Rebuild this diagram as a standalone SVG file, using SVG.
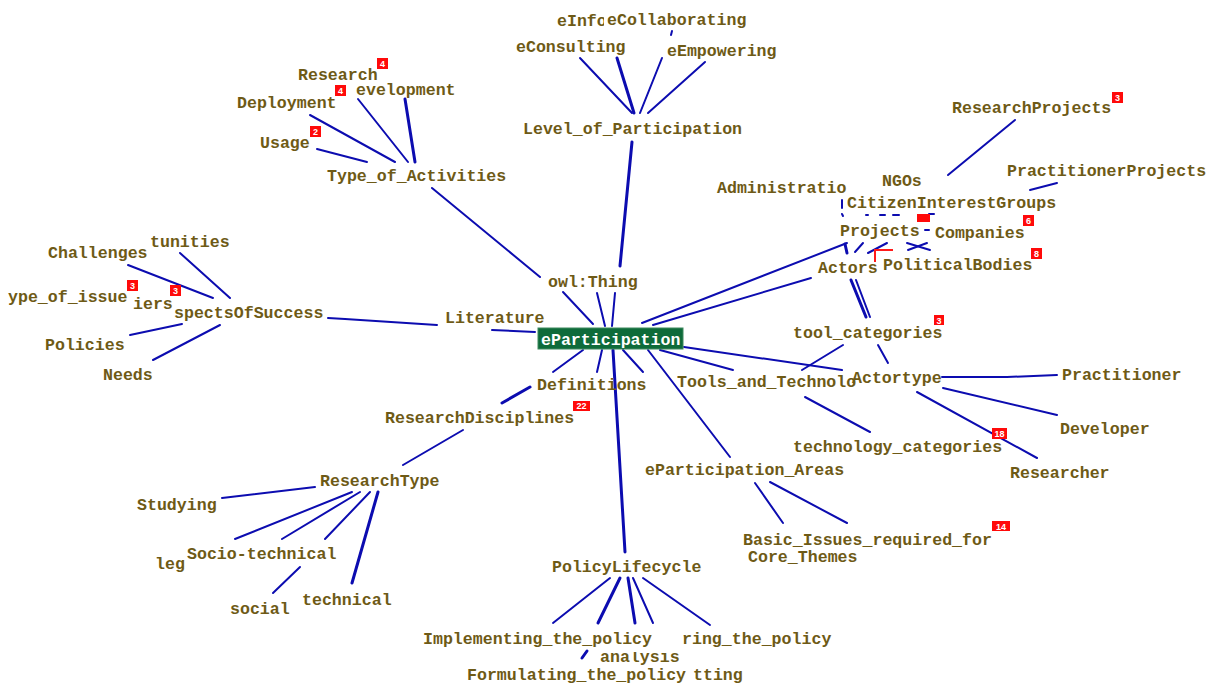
<svg xmlns="http://www.w3.org/2000/svg" width="1207" height="684" viewBox="0 0 1207 684">
  <defs>
    <style>
      .lbl { font-family: "Liberation Mono", "DejaVu Sans Mono", monospace; font-weight: bold; font-size: 16.6px; fill: #6e5a16; }
      .root { font-family: "Liberation Mono", "DejaVu Sans Mono", monospace; font-weight: bold; font-size: 16.6px; fill: #ffffff; }
      .edge { stroke: #0c0cb0; stroke-width: 2; fill: none; stroke-linecap: round; }
      .thick { stroke-width: 3; }
      .badge rect { fill: #ff0a0a; }
      .badge text { font-family: "Liberation Sans", Arial, sans-serif; font-weight: bold; font-size: 9px; fill: #ffffff; text-anchor: middle; }
      .redline { stroke: #ff1a1a; stroke-width: 2; fill: none; }
    </style>
    <clipPath id="clipAnalysis"><rect x="590" y="652" width="260" height="20"/></clipPath>
    <clipPath id="clipCore"><rect x="740" y="549" width="140" height="20"/></clipPath>
  </defs>
  <rect width="1207" height="684" fill="#ffffff"/>

  <!-- connectors -->
  <g id="connectors">
    <!-- Level_of_Participation branch -->
    <line class="edge" x1="580" y1="58" x2="632" y2="113"/>
    <line class="edge thick" x1="617" y1="58" x2="634" y2="113"/>
    <line class="edge" x1="662" y1="58" x2="640" y2="113"/>
    <line class="edge" x1="705" y1="62" x2="648" y2="113"/>
    <line class="edge" x1="672" y1="31" x2="671" y2="35"/>
    <line class="edge thick" x1="632" y1="142" x2="620" y2="266"/>
    <!-- Type_of_Activities branch -->
    <line class="edge" x1="317" y1="149" x2="367" y2="162"/>
    <line class="edge" x1="310" y1="115" x2="395" y2="162"/>
    <line class="edge" x1="358" y1="99" x2="408" y2="162"/>
    <line class="edge thick" x1="405" y1="99" x2="415" y2="162"/>
    <line class="edge" x1="432" y1="188" x2="540" y2="277"/>
    <!-- owl:Thing to root -->
    <line class="edge" x1="563" y1="292" x2="593" y2="324"/>
    <line class="edge" x1="597" y1="293" x2="605" y2="326"/>
    <line class="edge" x1="615" y1="293" x2="612" y2="326"/>
    <!-- AspectsOfSuccess branch -->
    <line class="edge" x1="180" y1="253" x2="230" y2="298"/>
    <line class="edge" x1="128" y1="265" x2="213" y2="298"/>
    <line class="edge" x1="130" y1="335" x2="182" y2="324"/>
    <line class="edge" x1="153" y1="360" x2="220" y2="325"/>
    <polyline class="edge" points="328,318 345,319 437,325"/>
    <line class="edge" x1="492" y1="330" x2="535" y2="332"/>
    <!-- root to Actors / Projects -->
    <line class="edge" x1="642" y1="323" x2="847" y2="243"/>
    <line class="edge" x1="653" y1="325" x2="811" y2="278"/>
    <line class="edge thick" x1="845" y1="244" x2="847" y2="253"/>
    <line class="edge" x1="855" y1="252" x2="863" y2="243"/>
    <line class="edge" x1="868" y1="253" x2="887" y2="243"/>
    <line class="edge" x1="907" y1="243" x2="930" y2="250"/>
    <line class="edge" x1="908" y1="250" x2="927" y2="243"/>
    <line class="edge" x1="925" y1="230" x2="929" y2="230"/>
    <line class="edge" x1="842" y1="200" x2="842" y2="208"/>
    <line class="edge" x1="842" y1="214" x2="843" y2="216"/>
    <line class="edge" x1="866" y1="215" x2="868" y2="215"/>
    <line class="edge" x1="880" y1="215" x2="885" y2="215"/>
    <line class="edge" x1="893" y1="215" x2="899" y2="215"/>
    <line class="edge" x1="929" y1="214" x2="934" y2="214"/>
    <line class="edge" x1="1015" y1="120" x2="948" y2="175"/>
    <line class="edge" x1="1030" y1="190" x2="1057" y2="183"/>
    <polyline class="redline" points="875,262 875,250 893,250"/>
    <!-- Actors to Actortype -->
    <line class="edge thick" x1="851" y1="280" x2="866" y2="317"/>
    <line class="edge" x1="856" y1="280" x2="870" y2="317"/>
    <line class="edge" x1="878" y1="345" x2="888" y2="363"/>
    <!-- Tools / Actortype -->
    <line class="edge" x1="660" y1="350" x2="733" y2="370"/>
    <line class="edge" x1="684" y1="347" x2="842" y2="370"/>
    <line class="edge" x1="802" y1="370" x2="843" y2="345"/>
    <line class="edge" x1="805" y1="397" x2="870" y2="432"/>
    <polyline class="edge" points="942,377 1007,377 1057,375"/>
    <line class="edge" x1="943" y1="388" x2="1057" y2="415"/>
    <line class="edge" x1="917" y1="392" x2="1037" y2="458"/>
    <!-- root downward -->
    <line class="edge" x1="583" y1="350" x2="553" y2="372"/>
    <line class="edge" x1="602" y1="350" x2="597" y2="372"/>
    <line class="edge" x1="623" y1="350" x2="643" y2="372"/>
    <line class="edge thick" x1="613" y1="350" x2="625" y2="552"/>
    <line class="edge" x1="648" y1="350" x2="730" y2="457"/>
    <!-- ePartication_Areas -->
    <line class="edge" x1="755" y1="483" x2="783" y2="523"/>
    <line class="edge" x1="770" y1="482" x2="847" y2="523"/>
    <!-- Definitions / Research -->
    <line class="edge thick" x1="530" y1="387" x2="502" y2="403"/>
    <line class="edge" x1="463" y1="430" x2="403" y2="465"/>
    <line class="edge" x1="315" y1="487" x2="222" y2="498"/>
    <line class="edge" x1="352" y1="492" x2="235" y2="539"/>
    <line class="edge" x1="360" y1="492" x2="282" y2="539"/>
    <line class="edge" x1="370" y1="492" x2="325" y2="539"/>
    <line class="edge thick" x1="378" y1="492" x2="352" y2="583"/>
    <line class="edge" x1="300" y1="567" x2="273" y2="593"/>
    <!-- PolicyLifecycle -->
    <line class="edge" x1="610" y1="578" x2="553" y2="623"/>
    <line class="edge thick" x1="620" y1="578" x2="598" y2="623"/>
    <line class="edge thick" x1="628" y1="578" x2="635" y2="623"/>
    <line class="edge" x1="633" y1="578" x2="653" y2="623"/>
    <line class="edge" x1="643" y1="578" x2="710" y2="625"/>
    <line class="edge thick" x1="582" y1="658" x2="587" y2="651"/>
  </g>

  <!-- nodes -->
  <g id="n-eInforming"><text class="lbl" x="557" y="26">eInfo</text></g>
  <g id="n-eCollaborating"><rect x="604" y="12" width="144" height="17" fill="#fff"/><text class="lbl" x="607" y="25">eCollaborating</text></g>
  <g id="n-eConsulting"><text class="lbl" x="516" y="52">eConsulting</text></g>
  <g id="n-eEmpowering"><text class="lbl" x="667" y="56">eEmpowering</text></g>
  <g id="n-Level_of_Participation"><text class="lbl" x="523" y="134">Level_of_Participation</text></g>

  <g id="n-Research"><text class="lbl" x="298" y="80">Research</text></g>
  <g id="n-Development"><text class="lbl" x="356" y="95">evelopment</text></g>
  <g id="n-Deployment"><text class="lbl" x="237" y="108">Deployment</text></g>
  <g id="n-Usage"><text class="lbl" x="260" y="148">Usage</text></g>
  <g id="n-Type_of_Activities"><text class="lbl" x="327" y="181">Type_of_Activities</text></g>

  <g id="n-Opportunities"><text class="lbl" x="150" y="247">tunities</text></g>
  <g id="n-Challenges"><text class="lbl" x="48" y="258">Challenges</text></g>
  <g id="n-Type_of_issue"><text class="lbl" x="8" y="302">ype_of_issue</text></g>
  <g id="n-Barriers"><text class="lbl" x="133" y="309">iers</text></g>
  <g id="n-AspectsOfSuccess"><text class="lbl" x="174" y="318">spectsOfSuccess</text></g>
  <g id="n-Policies"><text class="lbl" x="45" y="350">Policies</text></g>
  <g id="n-Needs"><text class="lbl" x="103" y="380">Needs</text></g>
  <g id="n-Literature"><text class="lbl" x="445" y="323">Literature</text></g>

  <g id="n-owlThing"><text class="lbl" x="548" y="287">owl:Thing</text></g>
  <g id="n-ePartication"><rect x="538" y="328" width="145" height="21" fill="#0e6b3a" stroke="#3f8a5f" stroke-width="1"/><text class="root" x="541" y="345">eParticipation</text></g>

  <g id="n-Definitions"><text class="lbl" x="537" y="390">Definitions</text></g>
  <g id="n-ResearchDisciplines"><text class="lbl" x="385" y="423">ResearchDisciplines</text></g>
  <g id="n-ResearchType"><text class="lbl" x="320" y="486">ResearchType</text></g>
  <g id="n-Studying"><text class="lbl" x="137" y="510">Studying</text></g>
  <g id="n-legal"><text class="lbl" x="155" y="569">leg</text></g>
  <g id="n-Socio-technical"><text class="lbl" x="187" y="559">Socio-technical</text></g>
  <g id="n-social"><text class="lbl" x="230" y="614">social</text></g>
  <g id="n-technical"><text class="lbl" x="302" y="605">technical</text></g>

  <g id="n-PolicyLifecycle"><text class="lbl" x="552" y="572">PolicyLifecycle</text></g>
  <g id="n-Implementing_the_policy"><text class="lbl" x="423" y="644">Implementing_the_policy</text></g>
  <g id="n-Monitoring_the_policy"><text class="lbl" x="682" y="644">ring_the_policy</text></g>
  <g id="n-Policy_analysis"><text class="lbl" x="600" y="662" clip-path="url(#clipAnalysis)">analysis</text></g>
  <g id="n-Formulating_the_policy"><text class="lbl" x="467" y="680">Formulating_the_policy</text></g>
  <g id="n-Agenda_setting"><text class="lbl" x="693" y="680">tting</text></g>

  <g id="n-eParticipation_Areas"><text class="lbl" x="645" y="475">eParticipation_Areas</text></g>
  <g id="n-Basic_Issues"><text class="lbl" x="743" y="545">Basic_Issues_required_for</text></g>
  <g id="n-Core_Themes"><text class="lbl" x="748" y="562" clip-path="url(#clipCore)">Core_Themes</text></g>

  <g id="n-Tools_and_Technologies"><text class="lbl" x="677" y="387">Tools_and_Technolo</text></g>
  <g id="n-tool_categories"><text class="lbl" x="793" y="338">tool_categories</text></g>
  <g id="n-technology_categories"><text class="lbl" x="793" y="452">technology_categories</text></g>
  <g id="n-Actortype"><text class="lbl" x="852" y="383">Actortype</text></g>
  <g id="n-Practitioner"><text class="lbl" x="1062" y="380">Practitioner</text></g>
  <g id="n-Developer"><text class="lbl" x="1060" y="434">Developer</text></g>
  <g id="n-Researcher"><text class="lbl" x="1010" y="478">Researcher</text></g>

  <g id="n-Actors"><text class="lbl" x="818" y="273">Actors</text></g>
  <g id="n-PoliticalBodies"><text class="lbl" x="883" y="270">PoliticalBodies</text></g>
  <g id="n-Projects"><text class="lbl" x="840" y="236">Projects</text></g>
  <g id="n-Companies"><text class="lbl" x="935" y="238">Companies</text></g>
  <g id="n-Administrations"><text class="lbl" x="717" y="193">Administratio</text></g>
  <g id="n-NGOs"><text class="lbl" x="882" y="186">NGOs</text></g>
  <g id="n-CitizenInterestGroups"><text class="lbl" x="847" y="208">CitizenInterestGroups</text></g>
  <g id="n-ResearchProjects"><text class="lbl" x="952" y="113">ResearchProjects</text></g>
  <g id="n-PractitionerProjects"><text class="lbl" x="1007" y="176">PractitionerProjects</text></g>

  <!-- instance-count badges -->
  <g class="badge">
    <g><rect x="377" y="58" width="11" height="11"/><text x="382.5" y="67">4</text></g>
    <g><rect x="335" y="85" width="11" height="11"/><text x="340.5" y="94">4</text></g>
    <g><rect x="310" y="126" width="11" height="11"/><text x="315.5" y="135">2</text></g>
    <g><rect x="127" y="280" width="11" height="11"/><text x="132.5" y="289">3</text></g>
    <g><rect x="170" y="285" width="11" height="11"/><text x="175.5" y="294">3</text></g>
    <g><rect x="573" y="401" width="17" height="10"/><text x="581.5" y="409">22</text></g>
    <g><rect x="1112" y="92" width="11" height="11"/><text x="1117.5" y="101">3</text></g>
    <g><rect x="917" y="214" width="13" height="8"/></g>
    <g><rect x="1023" y="215" width="11" height="11"/><text x="1028.5" y="224">6</text></g>
    <g><rect x="1031" y="248" width="11" height="11"/><text x="1036.5" y="257">8</text></g>
    <g><rect x="934" y="315" width="10" height="10"/><text x="939" y="323.5">3</text></g>
    <g><rect x="992" y="428" width="15" height="11"/><text x="999.5" y="437">18</text></g>
    <g><rect x="992" y="521" width="18" height="10"/><text x="1001" y="529.5">14</text></g>
  </g>
</svg>
